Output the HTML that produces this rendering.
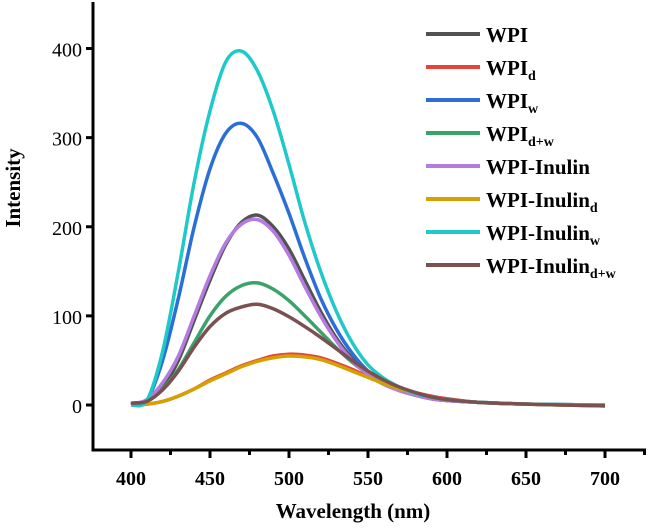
<!DOCTYPE html>
<html><head><meta charset="utf-8"><style>
body{margin:0;background:#fff}
svg,svg text{font-family:"Liberation Serif","DejaVu Serif","Times New Roman",serif}
</style></head><body>
<svg id="chart" width="648" height="524" viewBox="0 0 648 524" xmlns="http://www.w3.org/2000/svg">
<g id="axes"></g>
<g id="series"></g>
<g id="legend"></g>
<text transform="translate(20,188) rotate(-90)" text-anchor="middle" font-weight="bold" font-size="21">Intensity</text>
<text x="353" y="518" text-anchor="middle" font-weight="bold" font-size="21">Wavelength (nm)</text>
</svg>
<script>
const wavelengths=[400,410,420,430,440,450,460,470,480,490,500,510,520,530,540,550,560,570,580,590,600,620,650,700];
const seriesNames=["WPI","WPI_d","WPI_w","WPI_d+w","WPI-Inulin","WPI-Inulin_d","WPI-Inulin_w","WPI-Inulin_d+w"];
const seriesColors=["#525252","#e8423c","#2b6fd6","#3aa36a","#b57be0","#d6a000","#1fc9c9","#7a5050"];
const vWPI=[2,5,20,50,95,140,180,205,213,200,175,140,105,75,52,35,24,16,11,7,5,3,1,0];
const vWPId=[0,1,4,10,18,28,36,44,50,55,57,56,53,47,40,32,25,19,14,10,7,3,1,-1];
const vWPIw=[0,5,50,120,200,265,305,316,300,260,215,165,120,85,58,38,25,17,11,7,5,3,1,0];
const vWPIdw=[1,4,18,40,70,100,122,134,137,130,117,100,82,64,48,35,25,17,12,8,5,3,1,0];
const vInulin=[1,6,25,55,100,145,182,203,208,195,168,133,100,72,50,34,23,16,11,7,5,3,1,0];
const vInulind=[0,1,4,10,18,27,35,43,49,53,55,54,51,45,38,31,24,18,13,9,6,3,1,-1];
const vInulinw=[0,5,60,150,250,330,385,397,375,330,270,205,150,105,70,45,30,20,13,9,6,3,1,0];
const vInulindw=[2,4,17,38,65,88,103,110,113,108,99,88,76,63,50,38,28,20,14,9,6,3,1,-1];
const allValues=[vWPI,vWPId,vWPIw,vWPIdw,vInulin,vInulind,vInulinw,vInulindw];
const xTicks=[400,450,500,550,600,650,700];
const yTicks=[0,100,200,300,400];

const NS="http://www.w3.org/2000/svg";
const xS=v=>131+(v-400)*(605-131)/300;
const yS=v=>405-v*(405-48.5)/400;
function mk(tag,attrs,parent){const e=document.createElementNS(NS,tag);for(const k in attrs)e.setAttribute(k,attrs[k]);parent.appendChild(e);return e;}
const axes=document.getElementById('axes');
let e=mk('line',{x1:93,y1:2,x2:93,y2:451.5,stroke:'#000','stroke-width':3},axes);


e=mk('line',{x1:91.5,y1:450,x2:646,y2:450,stroke:'#000','stroke-width':3},axes);


for(let v=375;v<=725;v+=25){const x=xS(v);if(x<93||x>646)continue;const major=(v%50===0);
 e=mk('line',{x1:x,y1:450,x2:x,y2:major?458:455,stroke:'#000','stroke-width':3},axes);
 
 }
xTicks.forEach(v=>{e=mk('text',{x:xS(v),y:485,'text-anchor':'middle','font-weight':'bold','font-size':20},axes);e.textContent=v;
 
 });
yTicks.forEach(v=>{const y=yS(v);
 e=mk('line',{x1:86,y1:y,x2:93,y2:y,stroke:'#000','stroke-width':3},axes);
 
 
 e=mk('text',{x:82,y:y+8,'text-anchor':'end','font-size':20},axes);e.textContent=v;
 
 });
function pathFor(vals){const p=wavelengths.map((w,i)=>[xS(w),yS(vals[i])]);let d='M'+p[0][0]+','+p[0][1];
 for(let i=0;i<p.length-1;i++){const p0=p[Math.max(0,i-1)],p1=p[i],p2=p[i+1],p3=p[Math.min(p.length-1,i+2)];
 d+=' C'+(p1[0]+(p2[0]-p0[0])/6)+','+(p1[1]+(p2[1]-p0[1])/6)+' '+(p2[0]-(p3[0]-p1[0])/6)+','+(p2[1]-(p3[1]-p1[1])/6)+' '+p2[0]+','+p2[1];}
 return d;}
const sg=document.getElementById('series');const lg=document.getElementById('legend');
allValues.forEach((vals,i)=>{
 e=mk('path',{d:pathFor(vals),fill:'none',stroke:seriesColors[i],'stroke-width':3.5,'stroke-linejoin':'round'},sg);
 
 
 const y=34+i*33;
 const g=mk('g',{},lg);
 
 
 mk('line',{x1:426,y1:y,x2:480,y2:y,stroke:seriesColors[i],'stroke-width':4},g);
 const t=mk('text',{x:486,y:y+8,'font-weight':'bold','font-size':21},g);
 const parts=seriesNames[i].split('_');
 const a=document.createElementNS(NS,'tspan');a.textContent=parts[0];t.appendChild(a);
 if(parts[1]){const b=document.createElementNS(NS,'tspan');b.setAttribute('font-size','14');b.setAttribute('dy','5');b.textContent=parts[1];t.appendChild(b);}
});
</script>
</body></html>
